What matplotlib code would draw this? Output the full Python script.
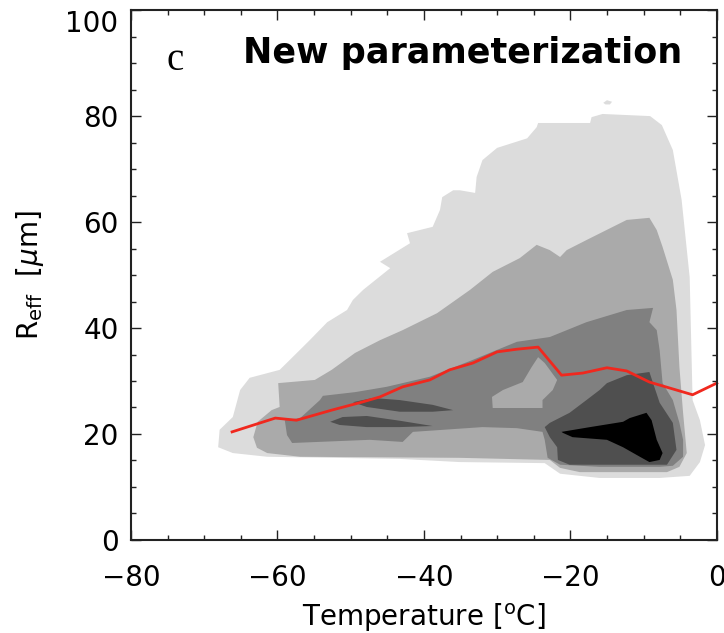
import matplotlib
matplotlib.use('Agg')
import matplotlib.pyplot as plt
from matplotlib.ticker import MultipleLocator

# outlines of the shaded frequency levels (temperature [C], Reff [um])
lvl1_t = [-68.1, -67.9, -66.1, -65.1, -63.8, -59.7, -58.3, -55.6, -53.2, -50.5, -49.7, -48.3,
          -44.6, -46.0, -41.9, -42.3, -38.8, -37.8, -37.5, -36.0, -35.1, -33.0, -32.8, -32.0,
          -30.0, -25.9, -24.6, -24.4, -17.3, -17.1, -15.6, -9.1, -7.5, -6.0, -4.8, -3.7, -3.3,
          -2.3, -1.6, -2.3, -3.7, -7.8, -16.0, -21.4, -23.5, -35.1, -43.3, -61.4, -66.1]
lvl1_r = [17.5, 20.8, 23.2, 28.3, 30.6, 32.1, 34.0, 37.7, 41.1, 43.4, 45.3, 47.2,
          51.3, 52.5, 56.0, 57.9, 59.1, 62.3, 64.7, 66.0, 66.0, 65.5, 68.5, 71.7,
          74.0, 75.8, 77.9, 78.7, 78.7, 79.8, 80.4, 80.0, 78.3, 73.6, 64.2, 49.6, 26.4,
          22.6, 17.9, 14.7, 12.1, 11.7, 11.7, 12.5, 14.5, 14.7, 15.3, 15.7, 16.4]

spot_t = [-15.5, -15.0, -14.3, -14.6, -15.2]
spot_r = [82.5, 83.0, 82.7, 82.2, 82.2]

lvl2_t = [-62.8, -63.3, -62.7, -60.8, -59.7, -59.9, -54.9, -52.6, -49.4, -46.0, -42.9, -38.2,
          -33.7, -30.6, -26.9, -24.6, -22.8, -21.4, -20.5, -17.8, -12.3, -9.2, -8.2, -7.4,
          -6.0, -5.5, -5.1, -4.6, -4.1, -5.1, -6.8, -18.7, -21.4, -22.8, -35.1, -56.9, -61.4]
lvl2_r = [17.4, 19.4, 22.3, 24.5, 25.1, 29.6, 30.2, 32.1, 35.3, 37.7, 39.6, 42.8,
          47.2, 50.6, 53.2, 55.7, 54.7, 53.4, 54.7, 56.6, 60.4, 60.8, 58.5, 55.3,
          49.1, 43.4, 32.6, 24.0, 16.4, 13.8, 12.8, 12.8, 13.6, 15.1, 15.5, 15.7, 16.4]

lvl3_t = [-59.0, -56.9, -54.2, -53.8, -49.4, -45.1, -39.2, -33.3, -27.3, -22.8, -17.8, -12.3,
          -8.7, -9.2, -8.2, -7.8, -7.4, -6.0, -5.1, -4.6, -4.6, -6.0, -7.8, -16.0, -21.4,
          -23.1, -23.5, -23.8, -27.3, -32.0, -41.5, -42.9, -47.4, -58.0, -58.7]
lvl3_r = [22.6, 23.0, 26.4, 27.2, 27.9, 28.9, 30.8, 34.0, 37.4, 38.3, 41.1, 43.4,
          43.8, 41.1, 39.6, 35.8, 29.6, 26.4, 22.1, 18.9, 15.7, 14.0, 13.8, 13.8, 14.2,
          15.5, 18.9, 20.4, 21.1, 21.3, 20.4, 18.5, 18.9, 18.3, 19.8]

hole_t = [-24.4, -23.5, -21.8, -22.4, -23.8, -23.8, -30.6, -30.7, -29.2, -26.5, -25.3]
hole_r = [34.5, 33.4, 30.2, 28.3, 26.4, 24.9, 24.9, 27.0, 28.3, 29.8, 32.6]

streak1_t = [-49.7, -47.0, -43.3, -38.8, -36.0, -38.8, -43.3, -47.8]
streak1_r = [26.0, 26.8, 26.4, 25.5, 24.5, 24.2, 24.2, 25.1]
streak2_t = [-52.8, -51.1, -47.8, -43.3, -38.8, -43.3, -47.8, -51.5]
streak2_r = [22.3, 23.2, 23.4, 22.5, 21.5, 21.3, 21.3, 21.7]

lvl4_t = [-9.2, -12.3, -15.0, -16.0, -17.8, -20.1, -22.8, -23.5, -22.8, -21.8, -21.7, -20.1,
          -6.8, -5.5, -6.0, -7.8, -8.7]
lvl4_r = [31.7, 31.1, 29.6, 28.3, 26.4, 24.0, 22.1, 21.3, 19.4, 17.5, 15.1, 14.2,
          14.2, 17.0, 22.1, 25.9, 29.6]

lvl5_t = [-21.2, -17.3, -12.8, -11.9, -9.6, -8.9, -8.2, -7.4, -7.8, -9.2, -10.5, -12.8,
          -15.0, -19.7, -21.0]
lvl5_r = [20.4, 21.3, 22.3, 23.0, 24.0, 22.6, 18.9, 16.4, 15.1, 14.7, 15.7, 17.5,
          18.9, 19.4, 20.2]

# mean effective radius per temperature bin
line_t = [-66.2, -60.3, -57.4, -52.6, -48.5, -46.0, -42.9, -39.2, -36.5, -33.3, -30.0,
          -27.3, -24.4, -21.2, -18.3, -15.0, -12.3, -9.2, -3.3, 0.0]
line_r = [20.4, 23.0, 22.6, 24.5, 26.0, 27.0, 28.9, 30.2, 32.1, 33.4, 35.5,
          36.0, 36.4, 31.1, 31.5, 32.5, 31.9, 29.8, 27.4, 29.6]

fig = plt.figure(figsize=(7.24, 6.33), dpi=100)
ax = fig.add_axes([0.181, 0.147, 0.809, 0.837])

ax.fill(lvl1_t, lvl1_r, color='#dcdcdc', lw=0)
ax.fill(spot_t, spot_r, color='#dcdcdc', lw=0)
ax.fill(lvl2_t, lvl2_r, color='#aaaaaa', lw=0)
ax.fill(lvl3_t, lvl3_r, color='#808080', lw=0)
ax.fill(hole_t, hole_r, color='#aaaaaa', lw=0)
ax.fill(streak1_t, streak1_r, color='#4f4f4f', lw=0)
ax.fill(streak2_t, streak2_r, color='#4f4f4f', lw=0)
ax.fill(lvl4_t, lvl4_r, color='#4f4f4f', lw=0)
ax.fill(lvl5_t, lvl5_r, color='#000000', lw=0)
ax.plot(line_t, line_r, color='#f0281e', lw=2.0, clip_on=False)

ax.set_xlim(-80, 0)
ax.set_ylim(0, 100)
ax.xaxis.set_major_locator(MultipleLocator(20))
ax.xaxis.set_minor_locator(MultipleLocator(5))
ax.yaxis.set_major_locator(MultipleLocator(20))
ax.yaxis.set_minor_locator(MultipleLocator(5))
ax.tick_params(which='both', direction='in', top=True, right=True, width=1.0, color='#222222')
ax.tick_params(which='major', length=7.5)
ax.tick_params(which='minor', length=3.8)
ax.tick_params(axis='x', labelsize=20, pad=17)
ax.tick_params(axis='y', labelsize=20, pad=9)
for sp in ax.spines.values():
    sp.set_linewidth(1.5)
    sp.set_color('#222222')

ax.set_xlabel(r'Temperature [$^{\rm o}$C]', fontsize=20, labelpad=7)
ax.set_ylabel(r'R$_{\rm eff}$  [$\mu$m]', fontsize=20, labelpad=14)

ax.text(-74.0, 88.7, 'c', family='Liberation Serif', fontsize=28, ha='center', va='baseline')
ax.text(-64.7, 90.0, 'New parameterization', fontweight='bold', fontsize=25.2,
        ha='left', va='baseline')

# top label hangs below its tick, as in the original panel
fig.canvas.draw()
for tick in ax.yaxis.get_major_ticks():
    if tick.get_loc() == 100:
        tick.label1.set_va('top')

fig.savefig('out.png', dpi=100)
